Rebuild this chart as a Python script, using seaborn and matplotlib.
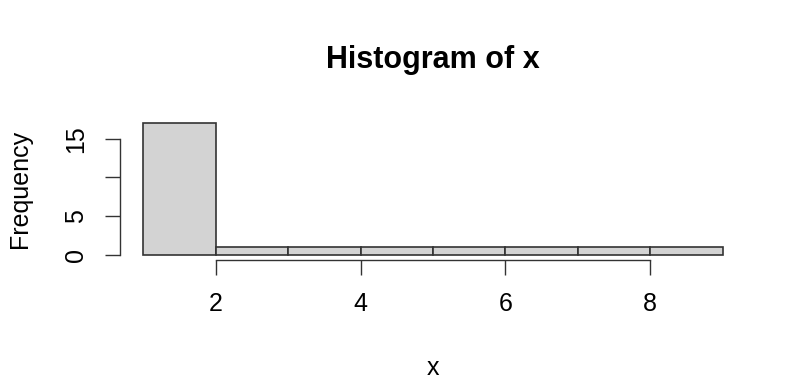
import matplotlib
matplotlib.use("Agg")
import matplotlib.pyplot as plt
import seaborn as sns

# data: observations (17 in the first bin, one in each other bin)
x = [1.0, 1.2, 1.1, 1.3, 1.5, 1.4, 1.6, 1.2, 1.8, 1.7, 1.9, 1.3, 1.5, 1.1, 1.6, 1.4, 1.8,
     2.5, 3.5, 4.5, 5.5, 6.5, 7.5, 8.5]
bin_edges = [1, 2, 3, 4, 5, 6, 7, 8, 9]
x_ticks = [2, 4, 6, 8]
y_ticks = [0, 5, 10, 15]
y_tick_labels = ["0", "5", "", "15"]

sns.set_theme(style="white")
plt.rcParams['font.family'] = ['Liberation Sans', 'DejaVu Sans']

fig = plt.figure(figsize=(7.96, 3.91), dpi=100)
ax = fig.add_axes([120/796, 1-260/391, (746-120)/796, (260-118)/391])

sns.histplot(x=x, bins=bin_edges, color="#D3D3D3", edgecolor="#333333",
             linewidth=1.2, alpha=1, ax=ax)

ax.set_xlim(0.68, 9.32)
ax.set_ylim(-0.68, 17.68)
for s in ["top", "right"]:
    ax.spines[s].set_visible(False)
for s in ["left", "bottom"]:
    ax.spines[s].set_color("#333333")
    ax.spines[s].set_linewidth(1.0)
ax.spines["left"].set_bounds(0, 15)
ax.spines["bottom"].set_bounds(2, 8)

ax.set_xticks(x_ticks)
ax.set_xticklabels([str(t) for t in x_ticks])
ax.set_yticks(y_ticks)
ax.set_yticklabels(y_tick_labels, rotation=90, va="center")
ax.tick_params(axis="both", direction="out", length=10.8, width=1.0, color="#333333",
               labelsize=18, labelcolor="black", left=True, bottom=True)
ax.tick_params(axis="x", pad=12.5)
ax.tick_params(axis="y", pad=12)

ax.set_xlabel("x", fontsize=18, color="black")
ax.xaxis.set_label_coords(0.5, -0.675)
ax.set_ylabel("Frequency", fontsize=18, color="black")
ax.yaxis.set_label_coords(-0.1406, 0.5)
ax.set_title("Histogram of x", fontsize=22, fontweight="bold", color="black",
             y=1.352, pad=0)
ax.grid(False)

fig.savefig("out.png", dpi=100)
